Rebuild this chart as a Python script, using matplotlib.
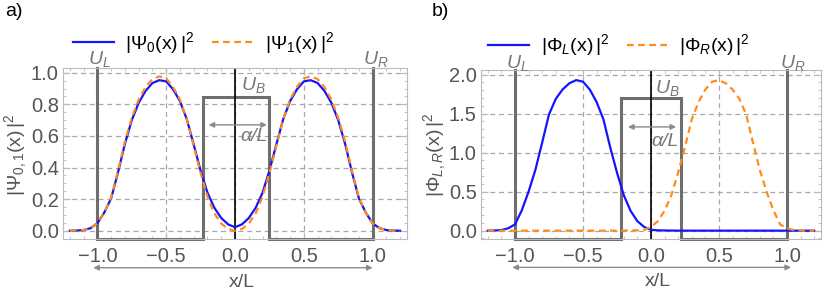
import matplotlib
matplotlib.use('Agg')
import matplotlib.pyplot as plt
from matplotlib.ticker import MultipleLocator

plt.rcParams['font.family'] = ['Liberation Sans', 'DejaVu Sans']
plt.rcParams['mathtext.fontset'] = 'custom'
plt.rcParams['mathtext.rm'] = 'Liberation Sans'
plt.rcParams['mathtext.it'] = 'Liberation Sans:italic'

# x/L sample positions
x = [-1.2, -1.15, -1.1, -1.05, -1.0, -0.95, -0.9, -0.85, -0.8, -0.75, -0.7, -0.65,
     -0.6, -0.55, -0.5, -0.45, -0.4, -0.35, -0.3, -0.25, -0.2, -0.15, -0.1, -0.05,
     0.0, 0.05, 0.1, 0.15, 0.2, 0.25, 0.3, 0.35, 0.4, 0.45, 0.5, 0.55, 0.6, 0.65,
     0.7, 0.75, 0.8, 0.85, 0.9, 0.95, 1.0, 1.05, 1.1, 1.15, 1.2]

# panel a: |Psi0|^2 and |Psi1|^2
psi0_sq = [0.000, 0.001, 0.004, 0.016, 0.047, 0.115, 0.205, 0.37, 0.55, 0.70, 0.81, 0.885,
           0.935, 0.953, 0.945, 0.895, 0.82, 0.705, 0.545, 0.38, 0.24, 0.145, 0.08, 0.04,
           0.022, 0.04, 0.08, 0.145, 0.24, 0.38, 0.545, 0.705, 0.82, 0.895, 0.945, 0.953,
           0.935, 0.885, 0.81, 0.70, 0.55, 0.37, 0.205, 0.115, 0.047, 0.016, 0.004, 0.001, 0.000]
psi1_sq = [0.000, 0.001, 0.004, 0.016, 0.047, 0.115, 0.21, 0.38, 0.565, 0.715, 0.83, 0.91,
           0.96, 0.977, 0.965, 0.91, 0.83, 0.705, 0.535, 0.365, 0.215, 0.11, 0.045, 0.011,
           0.000, 0.011, 0.045, 0.11, 0.215, 0.365, 0.535, 0.705, 0.83, 0.91, 0.965, 0.977,
           0.96, 0.91, 0.83, 0.715, 0.565, 0.38, 0.21, 0.115, 0.047, 0.016, 0.004, 0.001, 0.000]

# panel b: |PhiL|^2 and |PhiR|^2
phiL_sq = [0.000, 0.002, 0.008, 0.03, 0.08, 0.26, 0.50, 0.78, 1.13, 1.49, 1.69, 1.81,
           1.89, 1.93, 1.91, 1.81, 1.65, 1.43, 1.07, 0.745, 0.455, 0.254, 0.122, 0.047,
           0.011, 0.0045, 0.0025, 0.0012, 0.0003, 0.0001, 0, 0, 0, 0, 0, 0,
           0, 0, 0, 0, 0, 0, 0, 0, 0, 0, 0, 0, 0]
phiR_sq = [0, 0, 0, 0, 0, 0, 0, 0, 0, 0, 0, 0,
           0, 0, 0, 0, 0, 0, 0.0001, 0.0003, 0.0012, 0.0025, 0.0045, 0.011,
           0.047, 0.122, 0.254, 0.455, 0.745, 1.07, 1.43, 1.65, 1.81, 1.91, 1.93, 1.89,
           1.81, 1.69, 1.49, 1.13, 0.78, 0.50, 0.26, 0.08, 0.03, 0.008, 0.002, 0.000, 0.000]

# barrier geometry (x/L of barrier edges, barrier height in plot units)
barrier_a = (-0.232, 0.248)
ub_a = 0.848
barrier_b = (-0.22, 0.222)
ub_b = 1.705

BLUE = '#1414ff'
ORANGE = '#ff8c1a'
GRAY = '#6e6e6e'
LABEL = '#555555'

fig = plt.figure(figsize=(8.3, 2.92), dpi=100)
ax_a = fig.add_axes([0.0759, 0.1815, 0.4145, 0.5856])
ax_b = fig.add_axes([0.5795, 0.1815, 0.4096, 0.5788])


def setup(ax, ylim, ymajor, yminor):
    ax.set_xlim(-1.25, 1.25)
    ax.set_ylim(*ylim)
    ax.xaxis.set_major_locator(MultipleLocator(0.5))
    ax.xaxis.set_minor_locator(MultipleLocator(0.1))
    ax.yaxis.set_major_locator(MultipleLocator(ymajor))
    ax.yaxis.set_minor_locator(MultipleLocator(yminor))
    ax.grid(True, which='major', ls=(0, (4, 3)), color='#a8a8a8', lw=0.9)
    ax.tick_params(which='both', direction='in', top=True, right=True,
                   color='#bbbbbb', labelcolor=LABEL, labelsize=14.5)
    ax.tick_params(which='major', length=5, width=0.8)
    ax.tick_params(which='minor', length=2.5, width=0.6)
    ax.tick_params(axis='x', pad=6)
    ax.tick_params(axis='y', pad=3)
    for s in ax.spines.values():
        s.set_color('#bbbbbb')


def potential(ax, edges, ub, ylim):
    bot, top = ylim
    px = [-1, -1, edges[0], edges[0], edges[1], edges[1], 1, 1]
    py = [top, bot, bot, ub, ub, bot, bot, top]
    ax.plot(px, py, color=GRAY, lw=2.2, clip_on=False, zorder=2,
            solid_joinstyle='miter')
    ax.axvline(0, color='black', lw=1.2, zorder=2)


def arrow(ax, x0, x1, y, trans):
    ax.annotate('', xy=(x1, y), xytext=(x0, y), xycoords=trans, textcoords=trans,
                arrowprops=dict(arrowstyle='<|-|>', color='#8a8a8a', lw=1,
                                mutation_scale=8, shrinkA=0, shrinkB=0),
                annotation_clip=False)


# ---- panel a
ylim_a = (-0.0525, 1.03)
setup(ax_a, ylim_a, 0.2, 0.05)
potential(ax_a, barrier_a, ub_a, ylim_a)
ax_a.plot(x, psi0_sq, color=BLUE, lw=1.6, zorder=3,
          label=r'$|\Psi_0(\mathrm{x})\,|^2$')
ax_a.plot(x, psi1_sq, color=ORANGE, lw=1.6, ls=(0, (3, 2)), zorder=4,
          label=r'$|\Psi_1(\mathrm{x})\,|^2$')
ax_a.legend(loc='center left', bbox_to_anchor=(0.029, 1.146), ncol=2, frameon=False,
            fontsize=14, handlelength=2.1, handletextpad=0.6, columnspacing=0.9,
            borderpad=0, borderaxespad=0)
ax_a.text(0.04, 0.92, r'$U_B$', color='#777777', fontsize=14, ha='left', va='center')
ax_a.text(0.04, 0.595, 'α/L', color='#777777', fontsize=14, style='italic',
          ha='left', va='center')
arrow(ax_a, -0.192, 0.232, 0.67, ax_a.transData)
tr = ax_a.get_xaxis_transform()
ax_a.text(-0.985, 1.05, r'$U_L$', transform=tr, color='#777777', fontsize=14,
          ha='center', va='center')
ax_a.text(1.024, 1.05, r'$U_R$', transform=tr, color='#777777', fontsize=14,
          ha='center', va='center')
arrow(ax_a, -1.03, 1.0, -0.168, tr)
ax_a.text(0.05, -0.281, 'x/L', transform=tr, color=LABEL, fontsize=14,
          ha='center', va='baseline')
fig.text(16 / 830, 1 - 155 / 292, r'$|\Psi_{0,1}(\mathrm{x})\,|^2$', rotation=90,
         color=LABEL, fontsize=14, ha='center', va='center')
fig.text(5 / 830, 1 - 12 / 292, 'a)', fontsize=14, ha='left', va='center')

# ---- panel b
ylim_b = (-0.107, 2.06)
setup(ax_b, ylim_b, 0.5, 0.1)
potential(ax_b, barrier_b, ub_b, ylim_b)
ax_b.plot(x, phiL_sq, color=BLUE, lw=1.6, zorder=3,
          label=r'$|\Phi_L(\mathrm{x})\,|^2$')
ax_b.plot(x, phiR_sq, color=ORANGE, lw=1.6, ls=(0, (3, 2)), zorder=4,
          label=r'$|\Phi_R(\mathrm{x})\,|^2$')
ax_b.legend(loc='center left', bbox_to_anchor=(0.021, 1.146), ncol=2, frameon=False,
            fontsize=14, handlelength=2.1, handletextpad=0.6, columnspacing=0.9,
            borderpad=0, borderaxespad=0)
ax_b.text(0.03, 1.83, r'$U_B$', color='#777777', fontsize=14, ha='left', va='center')
ax_b.text(0.0, 1.14, 'α/L', color='#777777', fontsize=14, style='italic',
          ha='left', va='center')
arrow(ax_b, -0.169, 0.185, 1.33, ax_b.transData)
tr = ax_b.get_xaxis_transform()
ax_b.text(-0.98, 1.04, r'$U_L$', transform=tr, color='#777777', fontsize=14,
          ha='center', va='center')
ax_b.text(1.04, 1.04, r'$U_R$', transform=tr, color='#777777', fontsize=14,
          ha='center', va='center')
arrow(ax_b, -1.02, 1.03, -0.168, tr)
ax_b.text(0.053, -0.281, 'x/L', transform=tr, color=LABEL, fontsize=14,
          ha='center', va='baseline')
fig.text(435 / 830, 1 - 155 / 292, r'$|\Phi_{L,R}(\mathrm{x})\,|^2$', rotation=90,
         color=LABEL, fontsize=14, ha='center', va='center')
fig.text(432 / 830, 1 - 12 / 292, 'b)', fontsize=14, ha='left', va='center')

fig.savefig('out.png', dpi=100)
